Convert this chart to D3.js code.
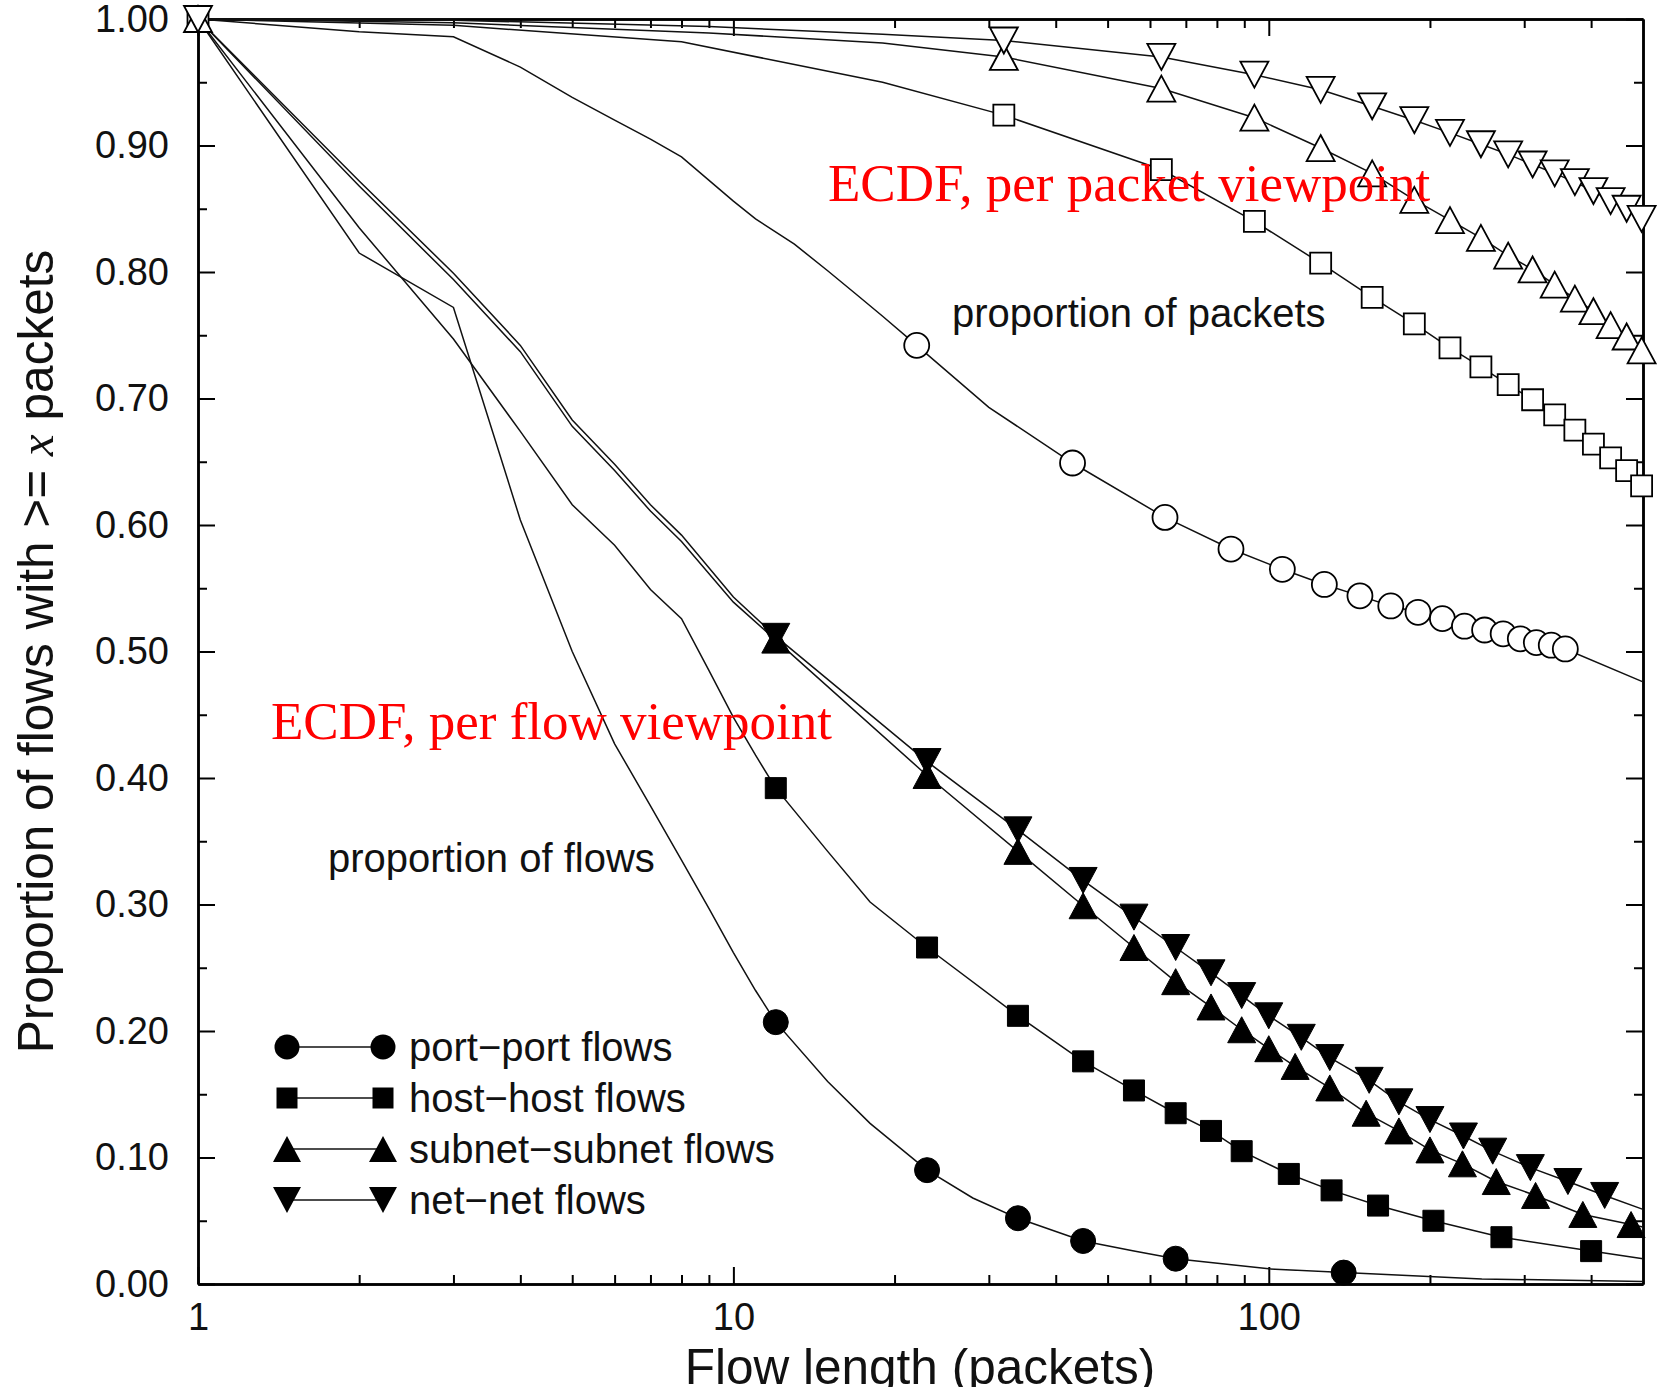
<!DOCTYPE html>
<html>
<head>
<meta charset="utf-8">
<script src="https://cdn.jsdelivr.net/npm/d3@7"></script>
<style>
  body { margin: 0; background: #fff; }
</style>
</head>
<body>
<svg id="chart" width="1658" height="1387"></svg>
<script>
// ECDF values (x = flow length in packets)

// per packet viewpoint (hollow markers)
const portPktX = [1, 2, 3, 4, 5, 6, 7, 8, 10, 11, 13, 15, 17, 19, 22, 30, 43, 64, 85, 106, 127, 148, 169, 190, 211, 232, 253, 274, 295, 316, 337, 358, 500];
const portPktY = [1.000, 0.990, 0.986, 0.962, 0.938, 0.920, 0.905, 0.891, 0.856, 0.842, 0.822, 0.801, 0.782, 0.765, 0.742, 0.693, 0.649, 0.606, 0.581, 0.565, 0.553, 0.544, 0.536, 0.531, 0.526, 0.520, 0.517, 0.514, 0.510, 0.507, 0.505, 0.502, 0.476];
const portPktMarks = [22, 43, 64, 85, 106, 127, 148, 169, 190, 211, 232, 253, 274, 295, 316, 337, 358];

const pktMarks = [1, 32, 63, 94, 125, 156, 187, 218, 249, 280, 311, 342, 373, 404, 435, 466, 497];

const hostPktX = [1, 3, 8, 12, 19, 32, 63, 94, 125, 156, 187, 218, 249, 280, 311, 342, 373, 404, 435, 466, 497];
const hostPktY = [1.000, 0.995, 0.982, 0.967, 0.950, 0.924, 0.881, 0.840, 0.807, 0.780, 0.759, 0.740, 0.725, 0.711, 0.699, 0.687, 0.675, 0.664, 0.653, 0.643, 0.631];

const subnetPktX = [1, 3, 9, 19, 32, 63, 94, 125, 156, 187, 218, 249, 280, 311, 342, 373, 404, 435, 466, 497];
const subnetPktY = [1.000, 0.997, 0.989, 0.981, 0.970, 0.945, 0.922, 0.898, 0.878, 0.857, 0.841, 0.827, 0.813, 0.802, 0.790, 0.779, 0.769, 0.758, 0.749, 0.738];

const netPktX = [1, 3, 9, 19, 32, 63, 94, 125, 156, 187, 218, 249, 280, 311, 342, 373, 404, 435, 466, 497];
const netPktY = [1.000, 0.999, 0.994, 0.988, 0.983, 0.970, 0.956, 0.944, 0.931, 0.920, 0.910, 0.901, 0.893, 0.885, 0.878, 0.871, 0.864, 0.856, 0.850, 0.842];

// per flow viewpoint (filled markers)
const portFlowX = [1, 2, 3, 4, 5, 6, 7, 8, 9, 10, 11, 12, 15, 18, 23, 28, 34, 45, 56, 67, 100, 138, 250, 500];
const portFlowY = [1.000, 0.815, 0.772, 0.604, 0.500, 0.427, 0.378, 0.335, 0.297, 0.262, 0.232, 0.207, 0.160, 0.127, 0.090, 0.068, 0.052, 0.034, 0.026, 0.020, 0.012, 0.009, 0.004, 0.002];
const portFlowMarks = [12, 23, 34, 45, 67, 138];

const hostFlowX = [1, 2, 3, 4, 5, 6, 7, 8, 9, 10, 11, 12, 15, 18, 23, 34, 45, 56, 67, 78, 89, 109, 131, 160, 203, 272, 400, 500];
const hostFlowY = [1.000, 0.835, 0.747, 0.674, 0.616, 0.584, 0.549, 0.526, 0.485, 0.448, 0.418, 0.392, 0.342, 0.302, 0.266, 0.212, 0.176, 0.153, 0.135, 0.121, 0.105, 0.087, 0.074, 0.062, 0.050, 0.037, 0.026, 0.020];
const hostFlowMarks = [12, 23, 34, 45, 56, 67, 78, 89, 109, 131, 160, 203, 272, 400];

const subnetFlowX = [1, 2, 3, 4, 5, 6, 7, 8, 10, 12, 23, 34, 45, 56, 67, 78, 89, 100, 112, 130, 152, 175, 200, 230, 266, 315, 386, 475, 500];
const subnetFlowY = [1.000, 0.868, 0.794, 0.737, 0.678, 0.643, 0.611, 0.587, 0.539, 0.509, 0.402, 0.342, 0.299, 0.266, 0.239, 0.219, 0.201, 0.186, 0.172, 0.155, 0.135, 0.121, 0.106, 0.095, 0.081, 0.070, 0.055, 0.047, 0.045];
const subnetFlowMarks = [12, 23, 34, 45, 56, 67, 78, 89, 100, 112, 130, 152, 175, 200, 230, 266, 315, 386, 475];

const netFlowX = [1, 2, 3, 4, 5, 6, 7, 8, 10, 12, 23, 34, 45, 56, 67, 78, 89, 100, 115, 130, 154, 175, 200, 231, 262, 308, 362, 424, 500];
const netFlowY = [1.000, 0.872, 0.799, 0.742, 0.683, 0.648, 0.616, 0.592, 0.543, 0.512, 0.413, 0.359, 0.319, 0.290, 0.266, 0.246, 0.228, 0.212, 0.195, 0.179, 0.161, 0.144, 0.130, 0.117, 0.105, 0.092, 0.081, 0.070, 0.059];
const netFlowMarks = [12, 23, 34, 45, 56, 67, 78, 89, 100, 115, 130, 154, 175, 200, 231, 262, 308, 362, 424];

// axis ticks
const yMajor = [0, 0.1, 0.2, 0.3, 0.4, 0.5, 0.6, 0.7, 0.8, 0.9, 1.0];
const yMinor = [0.05, 0.15, 0.25, 0.35, 0.45, 0.55, 0.65, 0.75, 0.85, 0.95];
const xMajor = [1, 10, 100];
const xMinor = [2, 3, 4, 5, 6, 7, 8, 9, 20, 30, 40, 50, 60, 70, 80, 90, 200, 300, 400];

const legendLabels = ["port\u2212port flows", "host\u2212host flows", "subnet\u2212subnet flows", "net\u2212net flows"];
const legendShapes = ["circle", "square", "up", "down"];

let svg = d3.select("#chart"),
  margin = {top: 19, right: 15, bottom: 103, left: 198},
  width = +svg.attr("width") - margin.left - margin.right,
  height = +svg.attr("height") - margin.top - margin.bottom,
  g = svg.append("g").attr("transform", "translate(" + margin.left + "," + margin.top + ")");

let sansFont = "'Liberation Sans', Arial, Helvetica, sans-serif",
  serifFont = "'Liberation Serif', 'Times New Roman', serif";

svg.append("rect").attr("width", 1658).attr("height", 1387).attr("fill", "#fff").lower();

//scales
let x = d3.scaleLog().domain([1, 500]).range([0, width]),
  y = d3.scaleLinear().domain([0, 1]).range([height, 0]);

//axes: major + minor, ticks pointing inward, mirrored on top/right
function styleAxis(a) {
  a.selectAll("line").attr("stroke", "#000").attr("stroke-width", 2);
  a.select(".domain").attr("stroke", "#000").attr("stroke-width", 2.5);
  a.selectAll("text").attr("fill", "#111").style("font-family", sansFont).style("font-size", "38px");
}

let ax;
ax = g.append("g").call(d3.axisLeft(y).tickValues(yMajor).tickSize(-17).tickSizeOuter(0).tickPadding(29).tickFormat(d3.format(".2f")));
styleAxis(ax);
ax = g.append("g").call(d3.axisLeft(y).tickValues(yMinor).tickSize(-9).tickSizeOuter(0).tickFormat(""));
styleAxis(ax);
ax = g.append("g").attr("transform", "translate(" + width + ",0)").call(d3.axisRight(y).tickValues(yMajor).tickSize(-17).tickSizeOuter(0).tickFormat(""));
styleAxis(ax);
ax = g.append("g").attr("transform", "translate(" + width + ",0)").call(d3.axisRight(y).tickValues(yMinor).tickSize(-9).tickSizeOuter(0).tickFormat(""));
styleAxis(ax);

ax = g.append("g").attr("transform", "translate(0," + height + ")").call(d3.axisBottom(x).tickValues(xMajor).tickSize(-17).tickSizeOuter(0).tickPadding(19).tickFormat(d3.format("d")));
styleAxis(ax);
ax = g.append("g").attr("transform", "translate(0," + height + ")").call(d3.axisBottom(x).tickValues(xMinor).tickSize(-9).tickSizeOuter(0).tickFormat(""));
styleAxis(ax);
ax = g.append("g").call(d3.axisTop(x).tickValues(xMajor).tickSize(-17).tickSizeOuter(0).tickFormat(""));
styleAxis(ax);
ax = g.append("g").call(d3.axisTop(x).tickValues(xMinor).tickSize(-9).tickSizeOuter(0).tickFormat(""));
styleAxis(ax);

//marker shapes
function markerPath(shape) {
  let p = d3.path();
  if (shape === "circle") { p.arc(0, 0, 12.5, 0, 2 * Math.PI); }
  else if (shape === "square") { p.rect(-10.5, -10.5, 21, 21); }
  else if (shape === "up") { p.moveTo(0, -13); p.lineTo(14, 13); p.lineTo(-14, 13); p.closePath(); }
  else { p.moveTo(0, 13); p.lineTo(14, -13); p.lineTo(-14, -13); p.closePath(); }
  return p.toString();
}

let series = [
  {xs: portPktX, ys: portPktY, marks: portPktMarks, shape: "circle", filled: false},
  {xs: hostPktX, ys: hostPktY, marks: pktMarks, shape: "square", filled: false},
  {xs: subnetPktX, ys: subnetPktY, marks: pktMarks, shape: "up", filled: false},
  {xs: netPktX, ys: netPktY, marks: pktMarks, shape: "down", filled: false},
  {xs: portFlowX, ys: portFlowY, marks: portFlowMarks, shape: "circle", filled: true},
  {xs: hostFlowX, ys: hostFlowY, marks: hostFlowMarks, shape: "square", filled: true},
  {xs: subnetFlowX, ys: subnetFlowY, marks: subnetFlowMarks, shape: "up", filled: true},
  {xs: netFlowX, ys: netFlowY, marks: netFlowMarks, shape: "down", filled: true}
];

let line = d3.line()
  .x(function(d) { return x(d[0]); })
  .y(function(d) { return y(d[1]); });

//lines first
series.forEach(function(s) {
  let pts = s.xs.map(function(v, i) { return [v, s.ys[i]]; });
  g.append("path")
    .datum(pts)
    .attr("fill", "none")
    .attr("stroke", "#111")
    .attr("stroke-width", 1.5)
    .attr("d", line);
});

//then markers
series.forEach(function(s) {
  let pts = s.xs.map(function(v, i) { return [v, s.ys[i]]; })
    .filter(function(d) { return s.marks.indexOf(d[0]) >= 0; });
  g.selectAll(null)
    .data(pts)
    .enter()
    .append("path")
    .attr("transform", function(d) { return "translate(" + x(d[0]) + "," + y(d[1]) + ")"; })
    .attr("d", markerPath(s.shape))
    .attr("fill", s.filled ? "#000" : "#fff")
    .attr("stroke", "#000")
    .attr("stroke-width", s.filled ? 1 : 1.8);
});

//legend
let legend = g.selectAll(".legend")
  .data(legendLabels)
  .enter()
  .append("g")
  .attr("class", "legend")
  .attr("transform", function(d, i) { return "translate(89," + (1028 + i * 51) + ")"; });

legend.append("line")
  .attr("x1", 0).attr("x2", 96)
  .attr("stroke", "#111").attr("stroke-width", 1.5);
legend.append("path")
  .attr("d", function(d, i) { return markerPath(legendShapes[i]); })
  .attr("fill", "#000");
legend.append("path")
  .attr("transform", "translate(96,0)")
  .attr("d", function(d, i) { return markerPath(legendShapes[i]); })
  .attr("fill", "#000");
legend.append("text")
  .attr("x", 122)
  .attr("y", 14)
  .style("font-family", sansFont)
  .style("font-size", "40px")
  .attr("fill", "#111")
  .text(function(d) { return d; });

//annotations
svg.append("text")
  .attr("x", 952).attr("y", 327)
  .style("font-family", sansFont).style("font-size", "40px").attr("fill", "#111")
  .text("proportion of packets");
svg.append("text")
  .attr("x", 328).attr("y", 872)
  .style("font-family", sansFont).style("font-size", "40px").attr("fill", "#111")
  .text("proportion of flows");
svg.append("text")
  .attr("x", 828).attr("y", 201)
  .style("font-family", serifFont).style("font-size", "53px").attr("fill", "#f00")
  .text("ECDF, per packet viewpoint");
svg.append("text")
  .attr("x", 271).attr("y", 739)
  .style("font-family", serifFont).style("font-size", "53px").attr("fill", "#f00")
  .text("ECDF, per flow viewpoint");

//axis titles
let yTitle = svg.append("text")
  .attr("transform", "translate(53," + (margin.top + height / 2) + ") rotate(-90)")
  .attr("text-anchor", "middle")
  .style("font-family", sansFont).style("font-size", "49.5px").attr("fill", "#111");
yTitle.append("tspan").text("Proportion of flows with >= ");
yTitle.append("tspan").style("font-family", serifFont).style("font-style", "italic").text("x");
yTitle.append("tspan").text(" packets");

svg.append("text")
  .attr("x", 920).attr("y", 1384)
  .attr("text-anchor", "middle")
  .style("font-family", sansFont).style("font-size", "49.5px").attr("fill", "#111")
  .text("Flow length (packets)");
</script>
</body>
</html>
